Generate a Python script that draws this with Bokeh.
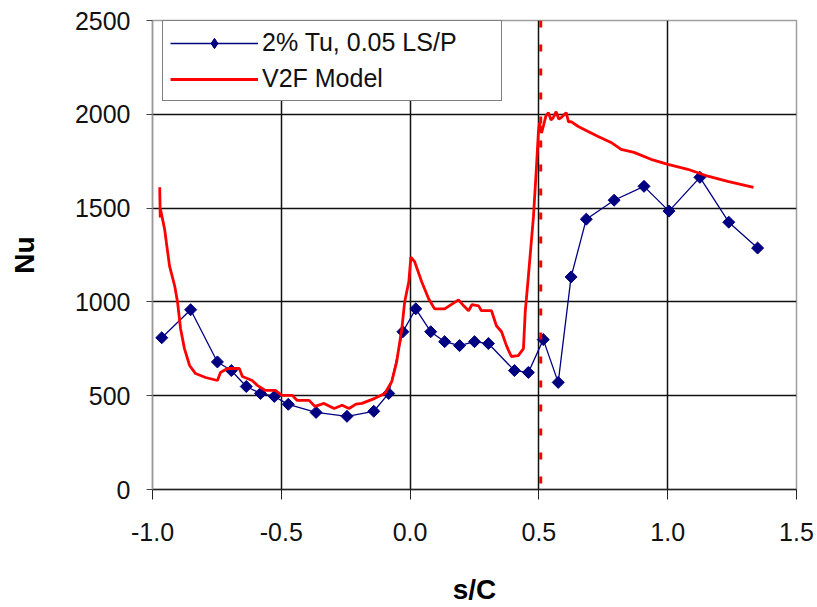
import numpy as np
from bokeh.plotting import figure
from bokeh.models import FixedTicker, NumeralTickFormatter, Span, Legend, LegendItem, Range1d
from bokeh.embed import file_html
from bokeh.resources import INLINE

# Experimental data: 2% Tu, 0.05 LS/P
s_exp = [-0.964, -0.852, -0.748, -0.694, -0.636, -0.581, -0.527, -0.473, -0.365, -0.245,
         -0.141, -0.083, -0.028, 0.022, 0.080, 0.134, 0.192, 0.250, 0.304, 0.405,
         0.459, 0.517, 0.575, 0.625, 0.684, 0.792, 0.908, 1.005, 1.125, 1.237, 1.349]
nu_exp = [809, 958, 680, 634, 549, 512, 496, 454, 411, 390,
          417, 512, 841, 963, 841, 788, 767, 788, 778, 634,
          624, 799, 571, 1133, 1441, 1542, 1616, 1484, 1664, 1425, 1287]

# V2F model
s_v2f = [-0.972, -0.970, -0.969, -0.953, -0.934, -0.914, -0.903, -0.891, -0.876, -0.856,
         -0.833, -0.794, -0.748, -0.736, -0.709, -0.663, -0.651, -0.613, -0.593, -0.562,
         -0.523, -0.497, -0.458, -0.438, -0.392, -0.369, -0.334, -0.295, -0.264, -0.237,
         -0.210, -0.187, -0.137, -0.098, -0.071, -0.052, -0.032, -0.021, -0.005, 0.003,
         0.018, 0.045, 0.072, 0.095, 0.134, 0.188, 0.208, 0.227, 0.240, 0.266,
         0.277, 0.316, 0.335, 0.355, 0.374, 0.393, 0.420, 0.440, 0.447, 0.459,
         0.479, 0.490, 0.498, 0.502, 0.510, 0.517, 0.527, 0.537, 0.547, 0.556,
         0.567, 0.577, 0.587, 0.596, 0.606, 0.615, 0.625, 0.653, 0.691, 0.730,
         0.780, 0.819, 0.869, 0.935, 1.001, 1.078, 1.156, 1.233, 1.283, 1.333]
nu_v2f = [1611, 1450, 1494, 1388, 1192, 1086, 1001, 857, 751, 661,
          618, 597, 581, 624, 645, 645, 602, 581, 555, 528,
          528, 502, 502, 475, 475, 443, 459, 432, 449, 432,
          455, 459, 486, 512, 576, 682, 857, 1001, 1107, 1239,
          1213, 1107, 1017, 963, 963, 1011, 979, 953, 985, 979,
          953, 953, 873, 841, 767, 709, 714, 751, 948, 1133,
          1457, 1707, 1903, 1956, 1900, 1935, 1990, 2009, 1970, 1983,
          2014, 1975, 1983, 1995, 2009, 1960, 1961, 1935, 1908, 1882,
          1850, 1813, 1797, 1760, 1733, 1707, 1670, 1643, 1627, 1611]

shock_s = 0.507

x_ticks = [-1.0, -0.5, 0.0, 0.5, 1.0, 1.5]
y_ticks = [0, 500, 1000, 1500, 2000, 2500]

FONT = "Liberation Sans"

p = figure(width=817, height=607, output_backend="svg", toolbar_location=None,
           x_range=Range1d(-1.0, 1.5), y_range=Range1d(0, 2500),
           min_border_left=152, min_border_right=21, min_border_top=20, min_border_bottom=116)
p.background_fill_color = "white"
p.border_fill_color = "white"
p.outline_line_color = "#A0A0A0"
p.outline_line_width = 1.5

# axes
p.xaxis.ticker = FixedTicker(ticks=x_ticks)
p.xaxis.formatter = NumeralTickFormatter(format="0.0")
p.yaxis.ticker = FixedTicker(ticks=y_ticks)
for ax in (p.xaxis[0], p.yaxis[0]):
    ax.major_label_text_font = FONT
    ax.major_label_text_font_size = "25px"
    ax.major_label_text_color = "#111111"
    ax.axis_label_text_font = FONT
    ax.axis_label_text_font_style = "bold"
    ax.axis_label_text_font_size = "28px"
    ax.axis_label_text_color = "black"
    ax.minor_tick_line_color = None
    ax.major_tick_in = 0
p.xaxis.axis_label = "s/C"
p.yaxis.axis_label = "Nu"
p.xaxis.axis_line_color = "#222222"
p.xaxis.axis_line_width = 1.5
p.xaxis.major_tick_line_color = "#222222"
p.xaxis.major_tick_out = 10
p.xaxis.major_label_standoff = 23
p.xaxis.axis_label_standoff = 30
p.yaxis.axis_line_color = "#999999"
p.yaxis.axis_line_width = 1.5
p.yaxis.major_tick_line_color = "#444444"
p.yaxis.major_tick_out = 6
p.yaxis.major_label_standoff = 16
p.yaxis.axis_label_standoff = 32

# grid
p.xgrid.ticker = FixedTicker(ticks=[-0.5, 0.0, 0.5, 1.0])
p.ygrid.ticker = FixedTicker(ticks=[500, 1000, 1500, 2000])
p.xgrid.grid_line_color = "#111111"
p.ygrid.grid_line_color = "#111111"
p.xgrid.grid_line_width = 1.5
p.ygrid.grid_line_width = 1.5

# shock / dashed line
p.add_layout(Span(location=shock_s, dimension="height", line_color="#FF0000",
                  line_width=3, line_dash="7 17"))

# series
r_exp_line = p.line(s_exp, nu_exp, line_color="#000080", line_width=1.3)
r_exp_pts = p.scatter(s_exp, nu_exp, marker="square", size=8.5, angle=np.pi / 4,
                      fill_color="#000080", line_color="#000080")
# legend-only diamond glyph (one NaN point, never drawn in the plot)
r_leg_diamond = p.scatter([float("nan")], [float("nan")], marker="diamond", size=15,
                          fill_color="#000080", line_color="#000080")
r_v2f = p.line(s_v2f, nu_v2f, line_color="#FF0000", line_width=2.8)

legend = Legend(items=[
    LegendItem(label="2% Tu, 0.05 LS/P", renderers=[r_exp_line, r_leg_diamond]),
    LegendItem(label="V2F Model", renderers=[r_v2f]),
], location=(10, 388))
legend.label_text_font = FONT
legend.label_text_font_size = "25px"
legend.label_text_color = "#111111"
legend.border_line_color = "black"
legend.border_line_width = 1.5
legend.background_fill_color = "white"
legend.background_fill_alpha = 1.0
legend.padding = 7
legend.margin = 0
legend.spacing = 7
legend.glyph_width = 88
legend.glyph_height = 26
legend.label_height = 26
legend.label_width = 232
legend.label_standoff = 4
p.add_layout(legend)

open("out.html", "w").write(file_html(p, INLINE))
